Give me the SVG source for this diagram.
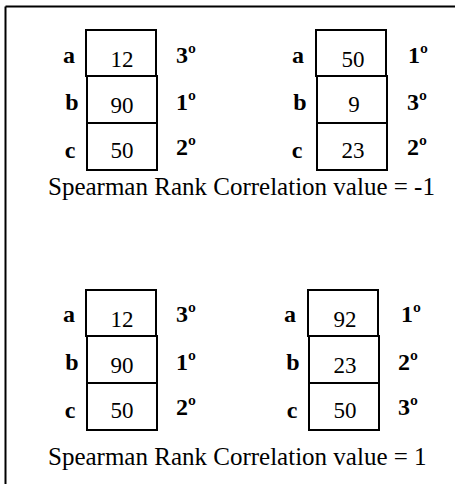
<svg xmlns="http://www.w3.org/2000/svg" width="455" height="484" viewBox="0 0 455 484">
<style>
.box{fill:#fff;stroke:#000;stroke-width:2}
.num{font-family:"Liberation Serif","Times New Roman",serif;font-size:23px;text-anchor:middle;fill:#000}
.lbl{font-family:"Liberation Serif","Times New Roman",serif;font-size:24px;font-weight:bold;text-anchor:middle;fill:#000}
.rk{font-family:"Liberation Serif","Times New Roman",serif;font-size:24px;font-weight:bold;fill:#000}
.cap{font-family:"Liberation Serif","Times New Roman",serif;font-size:25px;fill:#000}
</style>
<rect width="455" height="484" fill="#fff"/>
<g id="frame">
<line x1="5.5" y1="6.5" x2="455" y2="6.5" stroke="#000" stroke-width="2"/>
<line x1="5.5" y1="6.5" x2="5.5" y2="484" stroke="#000" stroke-width="2"/>
</g>
<g id="table1">
<rect class="box" x="86" y="30" width="70" height="46"/>
<rect class="box" x="87" y="76" width="70" height="47"/>
<rect class="box" x="87" y="123" width="70" height="47"/>
<text class="num" x="122" y="67">12</text>
<text class="num" x="122" y="113">90</text>
<text class="num" x="122" y="158">50</text>
<text class="lbl" x="69" y="63">a</text>
<text class="lbl" x="72" y="110">b</text>
<text class="lbl" x="70" y="158">c</text>
<text class="rk" x="176" y="63">3º</text>
<text class="rk" x="176" y="110">1º</text>
<text class="rk" x="176" y="155">2º</text>
</g>
<g id="table2">
<rect class="box" x="316" y="30" width="70" height="46"/>
<rect class="box" x="317" y="76" width="70" height="47"/>
<rect class="box" x="317" y="123" width="70" height="47"/>
<text class="num" x="353" y="67">50</text>
<text class="num" x="354" y="112">9</text>
<text class="num" x="353" y="158">23</text>
<text class="lbl" x="298" y="63">a</text>
<text class="lbl" x="300" y="110">b</text>
<text class="lbl" x="297" y="158">c</text>
<text class="rk" x="408" y="63">1º</text>
<text class="rk" x="407" y="110">3º</text>
<text class="rk" x="407" y="155">2º</text>
</g>
<text id="caption1" class="cap" x="48" y="195">Spearman Rank Correlation value = -1</text>
<g id="table3">
<rect class="box" x="86" y="290" width="70" height="46"/>
<rect class="box" x="87" y="336" width="70" height="47"/>
<rect class="box" x="87" y="383" width="70" height="47"/>
<text class="num" x="122" y="327">12</text>
<text class="num" x="122" y="373">90</text>
<text class="num" x="122" y="418">50</text>
<text class="lbl" x="69" y="322">a</text>
<text class="lbl" x="72" y="370">b</text>
<text class="lbl" x="70" y="418">c</text>
<text class="rk" x="176" y="322">3º</text>
<text class="rk" x="176" y="370">1º</text>
<text class="rk" x="176" y="415">2º</text>
</g>
<g id="table4">
<rect class="box" x="308" y="290" width="70" height="46"/>
<rect class="box" x="309" y="336" width="70" height="47"/>
<rect class="box" x="309" y="383" width="70" height="47"/>
<text class="num" x="345" y="327">92</text>
<text class="num" x="345" y="373">23</text>
<text class="num" x="345" y="418">50</text>
<text class="lbl" x="290" y="322">a</text>
<text class="lbl" x="293" y="370">b</text>
<text class="lbl" x="292" y="418">c</text>
<text class="rk" x="401" y="322">1º</text>
<text class="rk" x="398" y="370">2º</text>
<text class="rk" x="398" y="415">3º</text>
</g>
<text id="caption2" class="cap" x="48" y="465">Spearman Rank Correlation value = 1</text>
</svg>
